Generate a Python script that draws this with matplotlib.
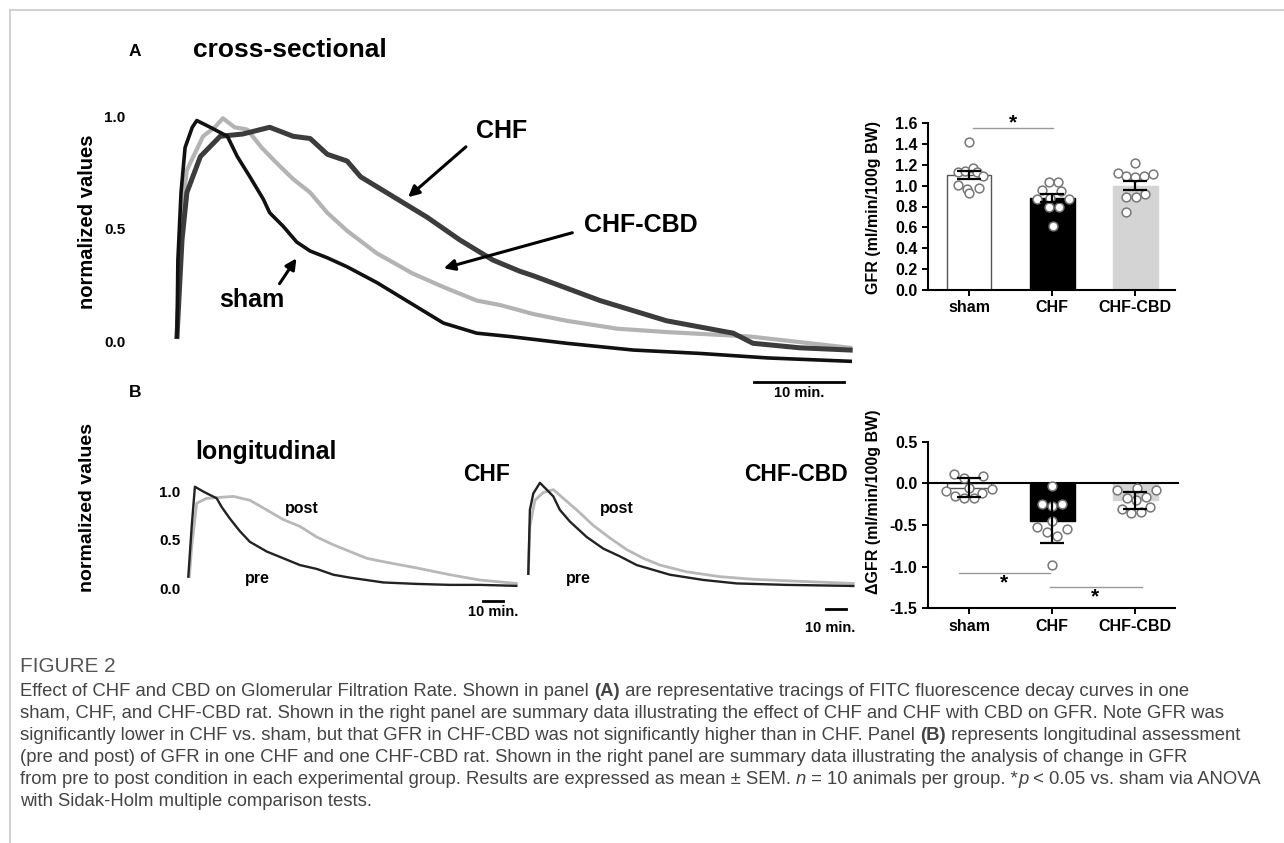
import matplotlib
matplotlib.use("Agg")
import matplotlib.pyplot as plt
from matplotlib.lines import Line2D
from matplotlib import font_manager

W, H = 1284, 843

# =========================
# Panel A tracings (time in min, normalized fluorescence)
sham_t = [0, 0.1, 0.45, 0.9, 1.7, 2.2, 3.7, 5.6, 6.7, 8.1, 9.6, 10.3, 11.8, 13.3, 14.8,
          16.7, 18.9, 22.2, 25.9, 29.6, 33.3, 37.0, 43.3, 50.7, 58.1, 65.6, 74.8]
sham_v = [0.02, 0.36, 0.66, 0.86, 0.95, 0.98, 0.95, 0.91, 0.82, 0.73, 0.63, 0.57, 0.51, 0.44, 0.40,
          0.37, 0.33, 0.26, 0.17, 0.08, 0.035, 0.02, -0.01, -0.04, -0.055, -0.075, -0.09]

chf_t = [0, 0.56, 1.1, 2.6, 4.8, 7.3, 10.3, 12.9, 14.8, 16.7, 18.9, 20.4, 24.1, 27.8, 31.4,
         35.1, 38.1, 39.6, 47.0, 54.4, 61.8, 64.0, 69.2, 74.8]
chf_v = [0.02, 0.45, 0.66, 0.82, 0.91, 0.92, 0.95, 0.91, 0.90, 0.83, 0.80, 0.73, 0.64, 0.55, 0.45,
         0.36, 0.31, 0.29, 0.18, 0.09, 0.035, -0.01, -0.03, -0.04]

cbd_t = [0, 0.33, 0.78, 1.1, 2.9, 4.2, 5.1, 6.4, 7.8, 9.4, 11.1, 12.9, 14.8, 16.7, 18.9,
         22.2, 26.2, 29.6, 33.3, 35.9, 39.6, 43.3, 48.9, 54.4, 63.7, 74.8]
cbd_v = [0.02, 0.45, 0.66, 0.76, 0.91, 0.95, 0.99, 0.95, 0.94, 0.86, 0.79, 0.72, 0.66, 0.57, 0.49,
         0.39, 0.30, 0.24, 0.18, 0.16, 0.12, 0.09, 0.055, 0.04, 0.02, -0.03]

# Panel B tracings (pre / post)
b_chf_pre_t = [0, 1.7, 3.3, 7.5, 14.2, 16.7, 20.8, 25.8, 30.8, 39.2, 47.5, 55.8, 64.2, 72.5,
               80.8, 97.5, 114.2, 130.8, 145.8, 164]
b_chf_pre_v = [0.12, 0.64, 1.05, 1.0, 0.93, 0.84, 0.72, 0.59, 0.48, 0.38, 0.31, 0.24, 0.20, 0.14,
               0.11, 0.06, 0.045, 0.035, 0.035, 0.025]
b_chf_post_t = [0.5, 1.7, 4.2, 9.2, 22.5, 30.8, 39.2, 47.5, 55.8, 64.2, 72.5, 80.8, 89.2, 97.5,
                114.2, 130.8, 145.8, 164]
b_chf_post_v = [0.12, 0.43, 0.88, 0.93, 0.95, 0.91, 0.81, 0.71, 0.64, 0.53, 0.45, 0.38, 0.31, 0.275,
                0.21, 0.14, 0.085, 0.05]

b_cbd_pre_t = [0, 0.8, 2.5, 5.8, 9.2, 12.5, 15.8, 20.8, 29.2, 37.5, 45.8, 54.2, 62.5, 70.8,
               87.5, 104.2, 129.2, 162.5]
b_cbd_pre_v = [0.15, 0.81, 0.98, 1.09, 1.02, 0.95, 0.81, 0.69, 0.53, 0.41, 0.33, 0.24, 0.19, 0.14,
               0.086, 0.05, 0.035, 0.024]
b_cbd_post_t = [0, 0.8, 3.3, 7.5, 12.5, 17.5, 24.2, 32.5, 40.8, 49.2, 57.5, 65.8, 79.2, 95.8,
                112.5, 137.5, 162.5]
b_cbd_post_v = [0.15, 0.64, 0.91, 0.99, 1.02, 0.93, 0.81, 0.65, 0.52, 0.40, 0.31, 0.24, 0.17, 0.12,
                0.093, 0.07, 0.05]

# =========================
# Bar summaries
groups = ["sham", "CHF", "CHF-CBD"]

gfr_mean = [1.10, 0.88, 1.00]
gfr_sem = [0.04, 0.04, 0.045]
gfr_pts = [
    [1.42, 1.13, 1.14, 1.17, 1.13, 1.09, 1.01, 0.97, 0.98, 0.93],
    [1.03, 1.03, 0.96, 0.95, 0.87, 0.88, 0.87, 0.80, 0.80, 0.61],
    [1.22, 1.12, 1.09, 1.08, 1.09, 1.11, 0.89, 0.89, 0.92, 0.75],
]
gfr_jit = [
    [0, -0.128, -0.048, 0.052, 0.092, 0.173, -0.128, -0.028, 0.124, 0.004],
    [-0.04, 0.068, -0.12, 0.108, -0.18, -0.02, 0.2, 0.08, -0.04, 0.012],
    [0.004, -0.209, -0.108, 0, 0.104, 0.221, -0.116, 0.012, 0.124, -0.116],
]

dgfr_mean = [-0.05, -0.45, -0.205]
dgfr_sem = [0.11, 0.27, 0.105]
dgfr_pts = [
    [0.11, 0.06, 0.09, -0.09, -0.07, -0.12, -0.15, -0.18, -0.17, -0.05],
    [-0.03, -0.25, -0.25, -0.27, -0.45, -0.52, -0.55, -0.59, -0.63, -0.98],
    [-0.08, -0.06, -0.08, -0.18, -0.16, -0.20, -0.31, -0.28, -0.36, -0.34],
]
dgfr_jit = [
    [-0.181, -0.056, 0.173, -0.281, 0.273, 0.153, -0.169, -0.06, 0.06, 0],
    [0, -0.12, 0.12, 0, 0, -0.181, 0.181, -0.06, 0.06, 0],
    [-0.221, 0.02, 0.249, -0.1, 0.129, 0.008, -0.161, 0.181, -0.048, 0.072],
]

bar_colors = ["white", "black", "#d4d4d4"]

caption_title = "FIGURE 2"
caption_lines = [
    [("Effect of CHF and CBD on Glomerular Filtration Rate. Shown in panel ", "normal", "normal"),
     ("(A)", "bold", "normal"),
     (" are representative tracings of FITC fluorescence decay curves in one", "normal", "normal")],
    [("sham, CHF, and CHF-CBD rat. Shown in the right panel are summary data illustrating the effect of CHF and CHF with CBD on GFR. Note GFR was", "normal", "normal")],
    [("significantly lower in CHF vs. sham, but that GFR in CHF-CBD was not significantly higher than in CHF. Panel ", "normal", "normal"),
     ("(B)", "bold", "normal"),
     (" represents longitudinal assessment", "normal", "normal")],
    [("(pre and post) of GFR in one CHF and one CHF-CBD rat. Shown in the right panel are summary data illustrating the analysis of change in GFR", "normal", "normal")],
    [("from pre to post condition in each experimental group. Results are expressed as mean \u00b1 SEM. ", "normal", "normal"),
     ("n", "normal", "italic"),
     (" = 10 animals per group. *", "normal", "normal"),
     ("p", "normal", "italic"),
     (" < 0.05 vs. sham via ANOVA", "normal", "normal")],
    [("with Sidak-Holm multiple comparison tests.", "normal", "normal")],
]

# =========================
plt.rcParams["font.family"] = ["Liberation Sans", "DejaVu Sans"]
fig = plt.figure(figsize=(W / 100, H / 100), dpi=100)


def px_ax(x0, y0, x1, y1):
    return fig.add_axes([x0 / W, 1 - y1 / H, (x1 - x0) / W, (y1 - y0) / H])


def ftxt(x, y, s, **kw):
    return fig.text(x / W, 1 - y / H, s, **kw)


def farrow(tail, head):
    fig.add_artist(matplotlib.patches.FancyArrowPatch(
        (tail[0] / W, 1 - tail[1] / H), (head[0] / W, 1 - head[1] / H),
        transform=fig.transFigure, arrowstyle="-|>", mutation_scale=16,
        lw=2.2, color="black"))


def bare(ax):
    for s in ax.spines.values():
        s.set_visible(False)
    ax.set_xticks([])
    ax.patch.set_alpha(0)


# frame lines
fig.add_artist(Line2D([10 / W, 1], [1 - 10 / H, 1 - 10 / H], color="#c8c8c8", lw=1.2))
fig.add_artist(Line2D([10 / W, 10 / W], [0, 1 - 10 / H], color="#c8c8c8", lw=1.2))

# ===== Panel A tracing =====
ax = px_ax(130, 60, 870, 400)
bare(ax)
ax.plot(cbd_t, cbd_v, color="#b3b3b3", lw=3.0)
ax.plot(chf_t, chf_v, color="#3c3c3c", lw=3.6)
ax.plot(sham_t, sham_v, color="#111111", lw=2.6)
ax.set_xlim(-5.22, 77.0)
ax.set_ylim(-0.262, 1.249)
ax.set_yticks([0, 0.5, 1.0])
ax.set_yticklabels(["0.0", "0.5", "1.0"], fontsize=11, fontweight="bold")
ax.tick_params(axis="y", length=0, pad=3.5)
ax.plot([64.1, 74.1], [-0.18, -0.18], color="black", lw=2, clip_on=False)
ax.text(69.1, -0.232, "10 min.", ha="center", va="center", fontsize=10.5, fontweight="bold")

ftxt(135, 51, "A", fontsize=12.5, fontweight="bold", ha="center", va="center")
ftxt(193, 50, "cross-sectional", fontsize=19, fontweight="bold", va="center")
ftxt(88, 222, "normalized values", fontsize=14.5, fontweight="bold", rotation=90,
     ha="center", va="center")
ftxt(502, 131, "CHF", fontsize=18, fontweight="bold", ha="center", va="center")
ftxt(641, 225, "CHF-CBD", fontsize=18, fontweight="bold", ha="center", va="center")
ftxt(252, 300, "sham", fontsize=18, fontweight="bold", ha="center", va="center")
farrow((468, 145), (406, 199))
farrow((575, 232), (441, 269))
farrow((278, 286), (298, 256))

# ===== Panel B tracings =====
ftxt(135, 393, "B", fontsize=12.5, fontweight="bold", ha="center", va="center")
ftxt(195, 452, "longitudinal", fontsize=18, fontweight="bold", va="center")
ftxt(88, 508, "normalized values", fontsize=14, fontweight="bold", rotation=90,
     ha="center", va="center")
ftxt(510, 475, "CHF", fontsize=16.5, fontweight="bold", ha="right", va="center")
ftxt(848, 475, "CHF-CBD", fontsize=16.5, fontweight="bold", ha="right", va="center")

axc = px_ax(184, 470, 520, 640)
bare(axc)
axc.plot(b_chf_post_t, b_chf_post_v, color="#b8b8b8", lw=2.0)
axc.plot(b_chf_pre_t, b_chf_pre_v, color="#222222", lw=1.7)
axc.set_xlim(-2.15, 165.85)
axc.set_ylim(-0.535, 1.223)
axc.set_yticks([0, 0.5, 1.0])
axc.set_yticklabels(["0.0", "0.5", "1.0"], fontsize=11, fontweight="bold")
axc.tick_params(axis="y", length=0, pad=2.5)
axc.plot([147.4, 157.4], [-0.128, -0.128], color="black", lw=2, clip_on=False)
axc.text(152.4, -0.245, "10 min.", ha="center", va="center", fontsize=10.5, fontweight="bold")
axc.text(57, 0.83, "post", ha="center", va="center", fontsize=11.5, fontweight="bold")
axc.text(34.5, 0.10, "pre", ha="center", va="center", fontsize=11.5, fontweight="bold")

axb = px_ax(522, 470, 860, 640)
bare(axb)
axb.set_yticks([])
axb.plot(b_cbd_post_t, b_cbd_post_v, color="#b8b8b8", lw=2.0)
axb.plot(b_cbd_pre_t, b_cbd_pre_v, color="#222222", lw=1.7)
axb.set_xlim(-3.15, 165.85)
axb.set_ylim(-0.535, 1.223)
axb.plot([148.9, 158.9], [-0.214, -0.214], color="black", lw=2, clip_on=False)
axb.text(151, -0.41, "10 min.", ha="center", va="center", fontsize=10.5, fontweight="bold")
axb.text(44.3, 0.83, "post", ha="center", va="center", fontsize=11.5, fontweight="bold")
axb.text(24.8, 0.10, "pre", ha="center", va="center", fontsize=11.5, fontweight="bold")


# ===== bar charts =====
def bar_panel(ax, mean, sem, pts, jit):
    xs = range(len(groups))
    ax.bar(xs, mean, width=0.54, color=bar_colors, edgecolor=["#555555", "black", "#d4d4d4"],
           linewidth=1, zorder=1)
    for i in xs:
        ax.scatter([i + j for j in jit[i]], pts[i], s=40, facecolor="white",
                   edgecolor="#777777", linewidth=1.1, zorder=2, clip_on=False)
    ax.errorbar(list(xs), mean, yerr=sem, fmt="none", ecolor="black", elinewidth=1.6,
                capsize=8.5, capthick=1.6, zorder=3)
    ax.set_xlim(-0.494, 2.48)
    ax.set_xticks(list(xs))
    ax.set_xticklabels(groups, fontsize=11.5, fontweight="bold")
    for s in ["top", "right"]:
        ax.spines[s].set_visible(False)
    for s in ["left", "bottom"]:
        ax.spines[s].set_linewidth(1.5)
    ax.tick_params(length=4, width=1.4, labelsize=11.5)
    ax.patch.set_alpha(0)


axg = px_ax(928, 123, 1175, 290)
bar_panel(axg, gfr_mean, gfr_sem, gfr_pts, gfr_jit)
axg.set_ylim(0, 1.6)
axg.set_yticks([0, 0.2, 0.4, 0.6, 0.8, 1.0, 1.2, 1.4, 1.6])
axg.set_yticklabels(["%.1f" % v for v in axg.get_yticks()], fontweight="bold")
axg.plot([0.05, 1.01], [1.55, 1.55], color="#999999", lw=1, clip_on=False)
axg.text(0.53, 1.60, "*", ha="center", va="center", fontsize=15, fontweight="bold")
ftxt(873, 207, "GFR (ml/min/100g BW)", fontsize=11.5, fontweight="bold", rotation=90,
     ha="center", va="center")

axd = px_ax(928, 441.7, 1175, 608.3)
bar_panel(axd, dgfr_mean, dgfr_sem, dgfr_pts, dgfr_jit)
axd.set_ylim(-1.5, 0.5)
axd.set_yticks([-1.5, -1.0, -0.5, 0, 0.5])
axd.set_yticklabels(["-1.5", "-1.0", "-0.5", "0.0", "0.5"], fontweight="bold")
axd.plot([-0.494, 2.52], [0, 0], color="black", lw=1.5, clip_on=False, zorder=1.5)
axd.plot([-0.12, 0.98], [-1.08, -1.08], color="#999999", lw=1)
axd.text(0.42, -1.20, "*", ha="center", va="center", fontsize=15, fontweight="bold")
axd.plot([0.98, 2.08], [-1.245, -1.245], color="#999999", lw=1)
axd.text(1.52, -1.365, "*", ha="center", va="center", fontsize=15, fontweight="bold")
ftxt(873, 502, "\u0394GFR (ml/min/100g BW)", fontsize=11.5, fontweight="bold", rotation=90,
     ha="center", va="center")

# ===== caption =====
names = {f.name for f in font_manager.fontManager.ttflist}
cap_font = "Liberation Sans Narrow" if "Liberation Sans Narrow" in names else "Liberation Sans"
rend = fig.canvas.get_renderer()


def run_width(s, size, weight, style):
    t = ftxt(0, 0, s + "|", fontsize=size, fontweight=weight, fontstyle=style, family=cap_font)
    w = t.get_window_extent(rend).width
    t.remove()
    t = ftxt(0, 0, "|", fontsize=size, fontweight=weight, fontstyle=style, family=cap_font)
    w -= t.get_window_extent(rend).width
    t.remove()
    return w


def line_width(line, size):
    return sum(run_width(s, size, wt, st) for s, wt, st in line)


# the full-width lines end near x = 1270 in the reference
cap_size = min(10 * 1248 / line_width(caption_lines[k], 10) for k in (1, 2, 4))

ftxt(20, 667, caption_title, fontsize=cap_size * 1.12, color="#555555", family=cap_font,
     va="center")
for k, line in enumerate(caption_lines):
    x = 20
    y = 692 + 22 * k
    for s, weight, style in line:
        ftxt(x, y, s, fontsize=cap_size, fontweight=weight, fontstyle=style, color="#444444",
             family=cap_font, va="center")
        x += run_width(s, cap_size, weight, style)

fig.savefig("out.png", dpi=100)
